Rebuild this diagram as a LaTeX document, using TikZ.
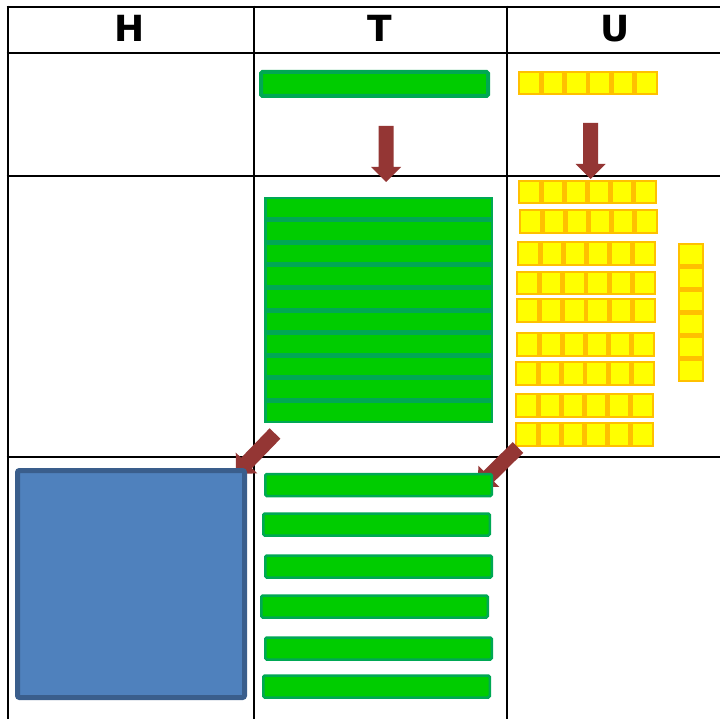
\documentclass[tikz,border=0pt]{standalone}
\usepackage{fontspec}
\newfontfamily\headfont{DejaVu Sans}
\definecolor{rodgreen}{HTML}{00CC00}
\definecolor{rodedge}{HTML}{00A854}
\definecolor{unityellow}{HTML}{FFFF00}
\definecolor{unitedge}{HTML}{FFC000}
\definecolor{hundfill}{HTML}{4F81BD}
\definecolor{hundedge}{HTML}{3A5E8C}
\definecolor{arrowred}{HTML}{943634}
\tikzset{
  gridline/.style={line width=2.8pt, black},
  headtext/.style={font=\headfont\bfseries\fontsize{36}{36}\selectfont, inner sep=0pt},
  tenrod/.style={rectangle, draw=rodedge, fill=rodgreen, line width=2.5pt, rounded corners=1.5pt, inner sep=0pt, outer sep=0pt},
  unitcube/.style={rectangle, draw=unitedge, fill=unityellow, line width=2.4pt, inner sep=0pt, outer sep=0pt},
  hundflat/.style={rectangle, draw=hundedge, fill=hundfill, line width=5pt, rounded corners=2pt, inner sep=0pt, outer sep=0pt},
  pics/blockarrow/.style={code={
    \fill[arrowred] (0,-7.5) -- (41,-7.5) -- (41,-15) -- (56,0) -- (41,15) -- (41,7.5) -- (0,7.5) -- cycle;}}
}
\begin{document}
\begin{tikzpicture}[x=1pt,y=-1pt]
\useasboundingbox (0,0) rectangle (720,719);
\fill[white] (0,0) rectangle (720,719);
% grid
\foreach \yy in {7,53,176,457} \draw[gridline] (6.6,\yy) -- (720,\yy);
\foreach \xx in {8,254,507} \draw[gridline] (\xx,5.6) -- (\xx,719);
% headers
\node[headtext] (hH) at (130,28) {H};
\node[headtext] (hT) at (379.7,28) {T};
\node[headtext] (hU) at (615,28.5) {U};
% top row: one ten and six units
\node[tenrod, line width=4pt, minimum width=227pt, minimum height=24pt] (topten) at (374.5,84) {};
\foreach \c in {0,...,5}
  \node[unitcube, minimum width=20.9pt, minimum height=21.6pt] (tu\c) at ({518+23.33*(\c+0.5)},83) {};
% down arrows
\pic[rotate=-90] at (386,126) {blockarrow};
\pic[rotate=-90] at (590.5,123) {blockarrow};
% middle row: ten tens
\foreach \r in {0,...,9}
  \node[tenrod, line width=2.5pt, rounded corners=0pt, minimum width=226.5pt, minimum height=20.1pt] (mt\r) at (378.5,{197+22.6*(\r+0.5)}) {};
% middle row: nine rows of six units
\foreach \r/\L/\R/\T/\B in {1/518/657/180/204, 2/519/658/209/234, 3/517/656/241/266, 4/516/656/271/295, 5/516/656/298/323, 6/516/655/332/357, 7/515/655/361/386, 8/515/654/393/418, 9/515/654/422/447}{
  \foreach \c in {0,...,5}
    \node[unitcube, minimum width={(\R-\L)/6-2.4}, minimum height={\B-\T-2.4}] (mu\r-\c) at ({\L+(\R-\L)/6*(\c+0.5)},{(\T+\B)/2}) {};
}
% vertical column of six units
\foreach \r in {0,...,5}
  \node[unitcube, minimum width=23.6pt, minimum height=20.8pt] (vu\r) at (691,{243+23.17*(\r+0.5)}) {};
% diagonal arrows
\pic[rotate=-134] at (275,433.5) {blockarrow};
\pic[rotate=-135.4] at (518,447.5) {blockarrow};
% bottom row: one hundred and six tens
\node[hundflat, minimum width=227pt, minimum height=227pt] (hund) at (131,584) {};
\foreach \r/\cx/\cy in {1/378.5/485, 2/376.5/524.5, 3/378.5/566.5, 4/374.5/606.5, 5/378.5/648.5, 6/376.5/686.5}
  \node[tenrod, minimum width=226.5pt, minimum height=22pt] (bt\r) at (\cx,\cy) {};
\end{tikzpicture}
\end{document}
